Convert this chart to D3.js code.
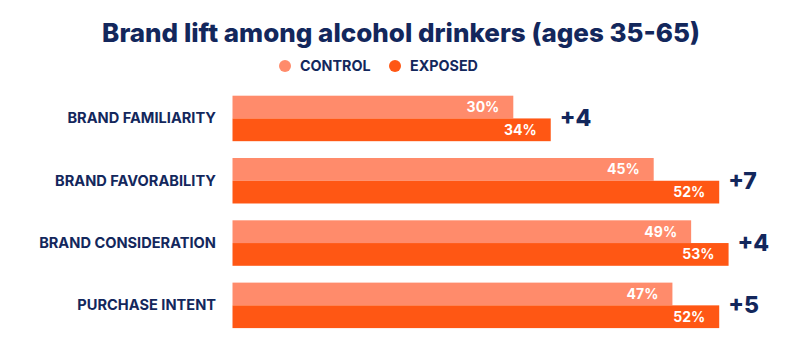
<!DOCTYPE html>
<html>
<head>
<meta charset="utf-8">
<script src="https://cdn.jsdelivr.net/npm/d3@7"></script>
<style>
  html, body { margin: 0; padding: 0; background: #ffffff; }
  svg { display: block; }
  text { font-family: "Inter", "Open Sans", sans-serif; }
</style>
</head>
<body>
<svg id="chart" width="800" height="354"></svg>
<script>
const title = "Brand lift among alcohol drinkers (ages 35-65)";
const categories = ["BRAND FAMILIARITY", "BRAND FAVORABILITY", "BRAND CONSIDERATION", "PURCHASE INTENT"];
const seriesNames = ["CONTROL", "EXPOSED"];
const controlValues = [30, 45, 49, 47];
const exposedValues = [34, 52, 53, 52];
const liftLabels = ["+4", "+7", "+4", "+5"];
const colors = ["#ff8b6b", "#ff5714"];
const navy = "#13275c";

const svg = d3.select("#chart");
const left = 232.5;
const pxPerPct = 9.36;

const x = d3.scaleLinear().domain([0, 100]).range([left, left + 100 * pxPerPct]);
const y = d3.scaleBand().domain(categories).range([95.7, 328.1]).paddingInner(0.27).paddingOuter(0);
const sub = d3.scaleBand().domain(seriesNames).range([0, y.bandwidth()]);

// Title
svg.append("text")
  .attr("x", 401).attr("y", 42)
  .attr("text-anchor", "middle")
  .attr("font-size", 26)
  .attr("font-weight", 800)
  .attr("fill", navy)
  .text(title);

// Legend
const legendX = [285, 395];
seriesNames.forEach((s, i) => {
  const g = svg.append("g").attr("transform", `translate(${legendX[i]},66)`);
  g.append("circle").attr("r", 6).attr("fill", colors[i]);
  g.append("text").attr("x", 15).attr("y", 5)
    .attr("font-size", 14.3).attr("font-weight", 700).attr("fill", navy).text(s);
});

const data = categories.map((c, i) => ({ cat: c, vals: [controlValues[i], exposedValues[i]], lift: liftLabels[i] }));

const groups = svg.selectAll("g.grp").data(data).join("g").attr("class", "grp")
  .attr("transform", d => `translate(0,${y(d.cat)})`);

groups.selectAll("rect").data(d => d.vals.map((v, i) => ({ v, s: seriesNames[i], i })))
  .join("rect")
  .attr("x", x(0))
  .attr("y", d => sub(d.s))
  .attr("width", d => x(d.v) - x(0))
  .attr("height", sub.bandwidth())
  .attr("fill", d => colors[d.i]);

groups.selectAll("text.val").data(d => d.vals.map((v, i) => ({ v, s: seriesNames[i], i })))
  .join("text").attr("class", "val")
  .attr("x", d => x(d.v) - 14)
  .attr("y", d => sub(d.s) + sub.bandwidth() / 2 + 5)
  .attr("text-anchor", "end")
  .attr("font-size", 14).attr("font-weight", 700).attr("fill", "#ffffff")
  .text(d => d.v + "%");

// Category labels
groups.append("text")
  .attr("x", 216)
  .attr("y", y.bandwidth() / 2 + 5)
  .attr("text-anchor", "end")
  .attr("font-size", 14.6).attr("font-weight", 700).attr("fill", navy)
  .text(d => d.cat);

// Lift labels
groups.append("text")
  .attr("x", d => x(d.vals[1]) + 9)
  .attr("y", y.bandwidth() / 2 + 8)
  .attr("font-size", 23).attr("font-weight", 800).attr("fill", navy)
  .text(d => d.lift);
</script>
</body>
</html>
